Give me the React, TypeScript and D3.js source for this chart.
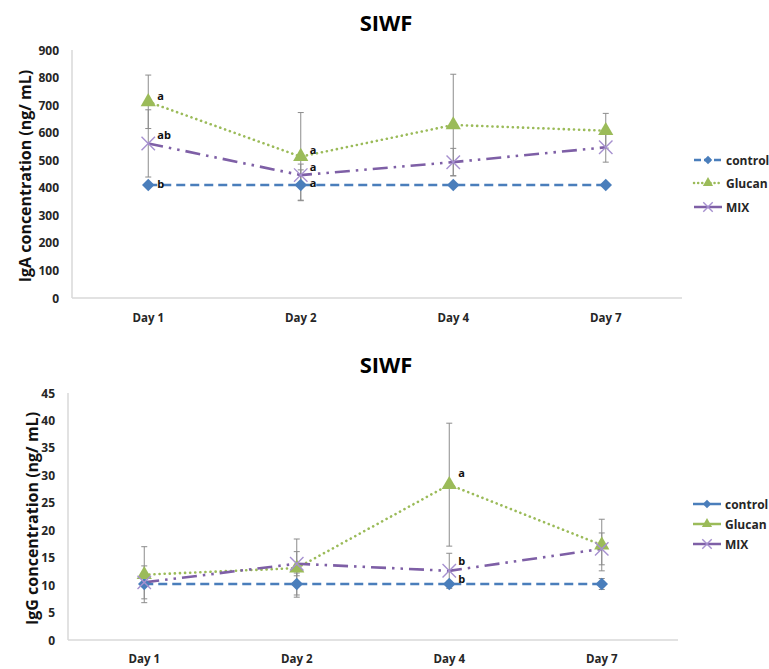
import React from 'react';
import * as d3 from 'd3';

// categories
const days = ['Day 1', 'Day 2', 'Day 4', 'Day 7'];
const seriesNames = ['control', 'Glucan', 'MIX'];

// IgA panel (ng/mL)
const igaTicks = [0, 100, 200, 300, 400, 500, 600, 700, 800, 900];
const igaControl = [410, 410, 410, 410];
const igaControlErr = [0, 55, 0, 0];
const igaGlucan = [712, 513, 628, 607];
const igaGlucanErr = [97, 160, 184, 63];
const igaMix = [561, 446, 493, 547];
const igaMixErr = [122, 40, 50, 54];
const igaLetters = [
    { day: 0, series: 1, text: 'a' },
    { day: 0, series: 2, text: 'ab' },
    { day: 0, series: 0, text: 'b' },
    { day: 1, series: 1, text: 'a' },
    { day: 1, series: 2, text: 'a' },
    { day: 1, series: 0, text: 'a' },
];

// IgG panel (ng/mL)
const iggTicks = [0, 5, 10, 15, 20, 25, 30, 35, 40, 45];
const iggControl = [10.2, 10.2, 10.2, 10.2];
const iggControlErr = [0.5, 2, 0.5, 1];
const iggGlucan = [11.9, 13.1, 28.3, 17.3];
const iggGlucanErr = [5.1, 5.3, 11.2, 4.7];
const iggMix = [10.5, 13.9, 12.6, 16.6];
const iggMixErr = [3, 2.2, 3.2, 2.9];
const iggLetters = [
    { day: 2, series: 1, text: 'a' },
    { day: 2, series: 2, text: 'b' },
    { day: 2, series: 0, text: 'b' },
];

const FONT = '"Open Sans", "Noto Sans", sans-serif';
const colors = ['#4a7ebb', '#9bbb59', '#7e5fa6'];
const markerFill = ['#4a7ebb', '#9bbb59', 'none'];
const markerStroke = ['none', 'none', '#a690cf'];
const dashes = ['9,5', '0.1,5', '15,6,2.5,6,2.5,6'];

const sym = (i: number, size: number) => {
    const types = [
        (d3 as any).symbolDiamond2 || d3.symbolDiamond,
        d3.symbolTriangle,
        (d3 as any).symbolTimes || d3.symbolCross,
    ];
    return d3.symbol().type(types[i]).size(size)() as string;
};

const Marker = ({ i, x, y, size }) => (
    <path
        d={sym(i, size)}
        transform={`translate(${x},${y})`}
        fill={markerFill[i]}
        stroke={markerStroke[i]}
        strokeWidth={1.4}
    />
);

const Panel = (props) => {
    const {
        x0, x1, y0, y1, ticks, values, errors, letters, letterDy,
        yLabel, labelX, dayY, legendY, legendX, legendSolid, titleY,
    } = props;

    const x = d3.scalePoint().domain(days).range([x0, x1]).padding(0.5);
    const y = d3.scaleLinear().domain([0, ticks[ticks.length - 1]]).range([y0, y1]);
    const line = d3.line<number>()
        .x((d, i) => x(days[i]) as number)
        .y(d => y(d));

    return (
        <g>
            <text x={386} y={titleY} textAnchor="middle" dominantBaseline="central"
                fontFamily={FONT} fontWeight="bold" fontSize={22}>SIWF</text>

            {/* axes */}
            <line x1={x0} x2={x0} y1={y1} y2={y0} stroke="#d9d9d9" strokeWidth={1.5} />
            <line x1={x0} x2={x1} y1={y0} y2={y0} stroke="#d9d9d9" strokeWidth={1.5} />
            {ticks.map(t => (
                <text key={t} x={x0 - 13} y={y(t)} textAnchor="end" dominantBaseline="central"
                    fontFamily={FONT} fontWeight="bold" fontSize={12} fill="#262626">{t}</text>
            ))}
            {days.map(d => (
                <text key={d} x={x(d)} y={dayY} textAnchor="middle" dominantBaseline="central"
                    fontFamily={FONT} fontWeight="bold" fontSize={11.5} fill="#262626">{d}</text>
            ))}
            <text transform={`translate(${labelX},${(y0 + y1) / 2 + 2}) rotate(-90)`}
                textAnchor="middle" dominantBaseline="central"
                fontFamily={FONT} fontWeight="bold" fontSize={16} fill="#111">{yLabel}</text>

            {/* error bars */}
            {values.map((vals, s) => vals.map((v, i) => {
                const e = errors[s][i];
                if (!e) return null;
                const cx = x(days[i]) as number;
                return (
                    <g key={`e${s}-${i}`} stroke="#8c8c8c" strokeWidth={1}>
                        <line x1={cx} x2={cx} y1={y(v + e)} y2={y(v - e)} />
                        <line x1={cx - 3} x2={cx + 3} y1={y(v + e)} y2={y(v + e)} />
                        <line x1={cx - 3} x2={cx + 3} y1={y(v - e)} y2={y(v - e)} />
                    </g>
                );
            }))}

            {/* lines */}
            {values.map((vals, s) => (
                <path key={`l${s}`} d={line(vals) as string} fill="none" stroke={colors[s]}
                    strokeWidth={2.6} strokeDasharray={dashes[s]}
                    strokeLinecap={s === 1 ? 'round' : 'butt'} />
            ))}

            {/* markers */}
            {values.map((vals, s) => vals.map((v, i) => (
                <Marker key={`m${s}-${i}`} i={s} x={x(days[i])} y={y(v)} size={s === 2 ? 120 : 100} />
            )))}

            {letters.map((l, k) => (
                <text key={`t${k}`} x={(x(days[l.day]) as number) + 9} y={y(values[l.series][l.day]) + letterDy[k]}
                    dominantBaseline="central" fontFamily={FONT} fontWeight="bold" fontSize={11}
                    fill="#111">{l.text}</text>
            ))}

            {/* legend */}
            {seriesNames.map((n, s) => (
                <g key={n}>
                    <line x1={legendX} x2={legendX + 28} y1={legendY[s]} y2={legendY[s]}
                        stroke={colors[s]} strokeWidth={2.5}
                        strokeDasharray={legendSolid ? undefined : ['7,3', '0.1,4', undefined][s]}
                        strokeLinecap={!legendSolid && s === 1 ? 'round' : 'butt'} />
                    <Marker i={s} x={legendX + 14} y={legendY[s]} size={s === 2 ? 60 : 45} />
                    <text x={legendX + 32} y={legendY[s]} dominantBaseline="central"
                        fontFamily={FONT} fontWeight="bold" fontSize={12} fill="#262626">{n}</text>
                </g>
            ))}
        </g>
    );
};

const App = () => (
    <div style={{ position: 'absolute', left: 0, top: 0 }}>
        <svg width={769} height={669} style={{ display: 'block', background: '#fff' }}>
            <Panel
                x0={72} x1={682} y0={298} y1={50}
                ticks={igaTicks}
                values={[igaControl, igaGlucan, igaMix]}
                errors={[igaControlErr, igaGlucanErr, igaMixErr]}
                letters={igaLetters}
                letterDy={[-6, -9, -2, -7, -9, -3]}
                yLabel="IgA concentration (ng/ mL)"
                labelX={25} dayY={317} titleY={22}
                legendX={694} legendY={[160, 183, 207]} legendSolid={false}
            />
            <Panel
                x0={68} x1={678} y0={640} y1={393}
                ticks={iggTicks}
                values={[iggControl, iggGlucan, iggMix]}
                errors={[iggControlErr, iggGlucanErr, iggMixErr]}
                letters={iggLetters}
                letterDy={[-12, -10, -6]}
                yLabel="IgG concentration (ng/ mL)"
                labelX={32} dayY={658} titleY={364}
                legendX={693} legendY={[504, 524, 544]} legendSolid={true}
            />
        </svg>
    </div>
);

export default App;
